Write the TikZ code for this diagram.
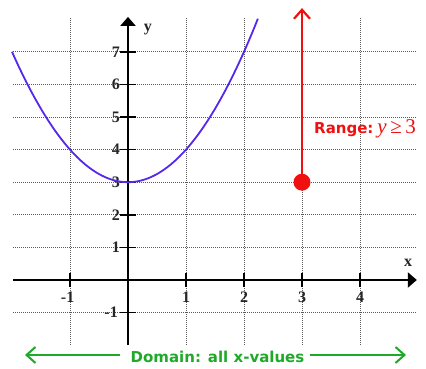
\documentclass[tikz,border=0pt]{standalone}
\usepackage{fontspec}
\setmainfont{Liberation Serif}
\newfontfamily\dejav{DejaVu Sans}
\usetikzlibrary{arrows.meta}
\definecolor{curveblue}{RGB}{85,40,235}
\definecolor{rangered}{RGB}{240,16,16}
\definecolor{domgreen}{RGB}{30,170,40}
\begin{document}
\begin{tikzpicture}[x=58pt,y=32.6pt,
  gridline/.style={black!65, line width=0.8pt, dash pattern=on 1pt off 1pt},
  axisline/.style={line width=2.2pt, -{Triangle[length=9pt,width=15pt]}},
  tickline/.style={line width=1.6pt},
  numlab/.style={font=\bfseries\fontsize{16}{16}\selectfont, inner sep=0pt, text=black!85},
  curve/.style={curveblue, line width=1.8pt},
  rangearrow/.style={rangered, line width=2.2pt, -{Straight Barb[length=9pt,width=16pt,line width=2.2pt]}},
  domainarrow/.style={domgreen, line width=2pt, -{Straight Barb[length=9pt,width=16pt,line width=2pt]}},
  domlab/.style={text=domgreen, font=\dejav\bfseries\fontsize{15}{15}\selectfont, inner sep=0pt}
]
\useasboundingbox (-128pt,-89pt) rectangle (298pt,280pt);
% grid
\foreach \y in {-1,1,2,3,4,5,6,7}
  \draw[gridline] (-1.98,\y) -- (4.97,\y);
\foreach \x in {-1,1,2,3,4}
  \draw[gridline] (\x,-1.99) -- (\x,8.05);
% axes
\coordinate (xl) at (-1.98,0);
\coordinate (xr) at (4.98,0);
\coordinate (yb) at (0,-1.99);
\coordinate (yt) at (0,8.07);
\draw[axisline] (xl) -- (xr);
\draw[axisline] (yb) -- (yt);
% ticks and labels
\foreach \x in {1,2,3,4} {
  \draw[tickline] (\x,0) ++(0,-7pt) -- ++(0,14pt);
  \node[numlab] (xlab\x) at ([yshift=-17pt]\x,0) {\x};
}
\draw[tickline] (-1,0) ++(0,-7pt) -- ++(0,14pt);
\node[numlab, anchor=east] (xlabm1) at ([yshift=-17pt,xshift=4.5pt]-1,0) {-1};
\foreach \y in {1,2,3,4,5,6,7} {
  \draw[tickline] (0,\y) ++(-8pt,0) -- ++(16pt,0);
  \node[numlab, anchor=east] (ylab\y) at ([xshift=-8pt]0,\y) {\y};
}
\draw[tickline] (0,-1) ++(-8pt,0) -- ++(16pt,0);
\node[numlab, anchor=east] (ylabm1) at ([xshift=-10pt]0,-1) {-1};
\node[numlab] (ylabel) at (20pt,250pt) {y};
\node[numlab] (xlabel) at (280pt,17pt) {x};
% parabola
\draw[curve] plot[domain=-2:2.24, samples=80] (\x,{\x*\x+3});
% range
\coordinate (rtop) at (3,8.34);
\node[circle, fill=rangered, minimum size=17pt, inner sep=0pt] (dot) at (3,3) {};
\draw[rangearrow] (dot.center) -- (rtop);
\node[anchor=base west, inner sep=0pt, text=rangered] (rangelab) at (186pt,146pt)
  {{\dejav\bfseries\fontsize{15}{15}\selectfont Range:}\hspace{4pt}{\fontsize{21}{21}\selectfont\itshape y\upshape\,≥\,3}};
% domain
\node[domlab] (domain) at (89.5pt,-77pt) {Domain: all x-values};
\coordinate (dl) at (-103pt,-75pt);
\coordinate (dr) at (278pt,-75pt);
\draw[domainarrow] ([xshift=-10pt,yshift=2pt]domain.west) -- (dl);
\draw[domainarrow] ([xshift=5pt,yshift=2pt]domain.east) -- (dr);
\end{tikzpicture}
\end{document}
